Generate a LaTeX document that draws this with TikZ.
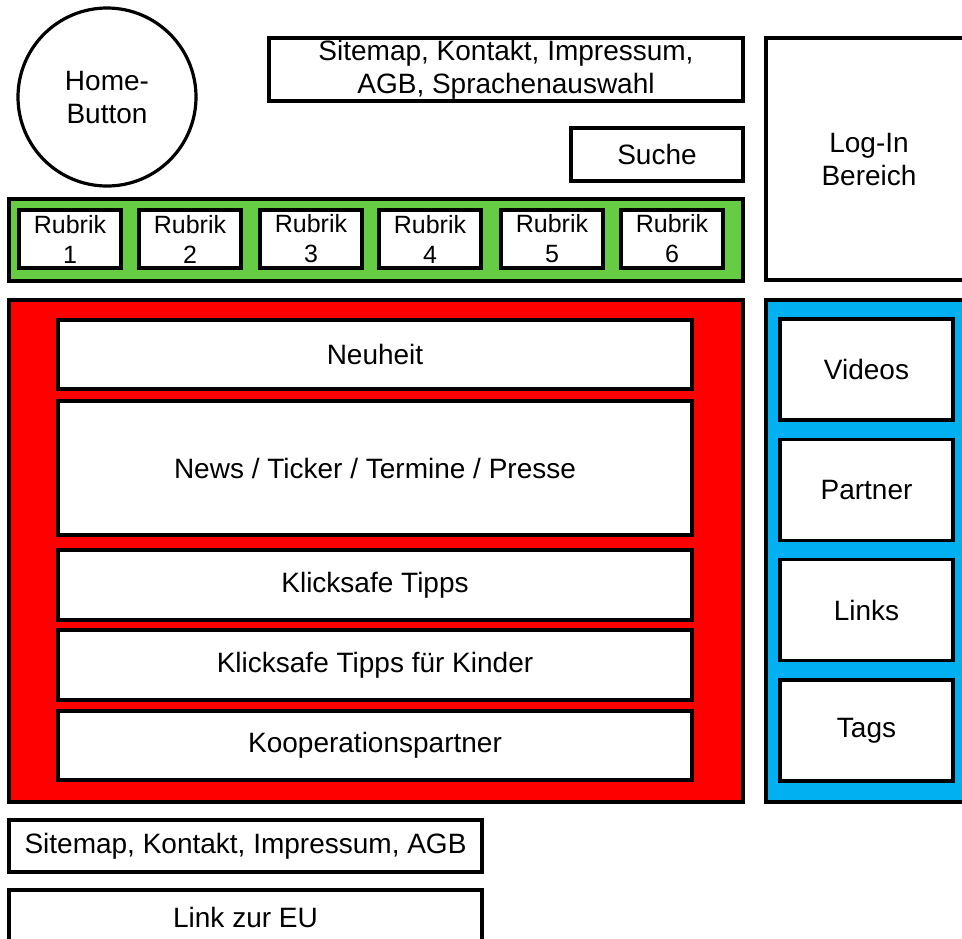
\documentclass[tikz,border=0pt]{standalone}
\usepackage{fontspec}
\setmainfont{Liberation Sans}
\usepackage{tikz}
\tikzset{
every picture/.style={line width=1.6pt},
%%%%%%%%%%  Node styles
box/.style={draw, fill=white, inner sep=0pt, align=center,
            font=\fontsize{14}{16.5}\selectfont},
home/.style={box, circle, minimum size=89pt},
rubrik/.style={box, minimum width=51pt, minimum height=29pt,
               font=\fontsize{12.5}{15}\selectfont},
content/.style={box, minimum width=317pt},
side/.style={box, minimum width=86.5pt, minimum height=50.5pt},
%%%%%%% Fill styles %%%%%%%%%%%%%%%
panel/.style={draw, inner sep=0pt},
navbar/.style={panel, fill=navgreen},
mainarea/.style={panel, fill=mainred},
sidebar/.style={panel, fill=sideblue}
}
\definecolor{navgreen}{RGB}{102,204,68}
\definecolor{mainred}{RGB}{255,0,0}
\definecolor{sideblue}{RGB}{0,176,240}

\begin{document}
\begin{tikzpicture}[x=0.5pt,y=-0.5pt]
\useasboundingbox (0,0) rectangle (962,938);
\clip (0,0) rectangle (962,938);
%%%% head
\node[home] (home) at (107,97) {Home-\\Button};
\node[box, minimum width=237pt, minimum height=31.5pt] (meta) at (506,69.5)
     {Sitemap, Kontakt, Impressum,\\AGB, Sprachenauswahl};
\node[box, minimum width=86pt, minimum height=26.5pt] (suche) at (657,154.5) {Suche};
\node[box, minimum width=103pt, minimum height=121pt] (login) at (869,159) {Log-In\\Bereich};
%%%% navigation
\node[navbar, minimum width=367pt, minimum height=41pt] (nav) at (376,240) {};
\node[rubrik] (r1) at (70,239) {Rubrik\\1};
\node[rubrik] (r2) at (190,239) {Rubrik\\2};
\node[rubrik] (r3) at (311,239) {Rubrik\\3};
\node[rubrik] (r4) at (430,239) {Rubrik\\4};
\node[rubrik] (r5) at (552,239) {Rubrik\\5};
\node[rubrik] (r6) at (672,239) {Rubrik\\6};
%%%% main content
\node[mainarea, minimum width=367pt, minimum height=251pt] (main) at (376,551) {};
\node[content, minimum height=34.5pt] (neu) at (375,354.5) {Neuheit};
\node[content, minimum height=67pt] (news) at (375,468) {News / Ticker / Termine / Presse};
\node[content, minimum height=35pt] (tipps) at (375,585) {Klicksafe Tipps};
\node[content, minimum height=35pt] (kinder) at (375,665) {Klicksafe Tipps für Kinder};
\node[content, minimum height=34.5pt] (koop) at (375,745.5) {Kooperationspartner};
%%%% sidebar
\node[sidebar, minimum width=100.5pt, minimum height=251pt] (aside) at (866.5,551) {};
\node[side] (videos) at (866.5,369.5) {Videos};
\node[side] (partner) at (866.5,490) {Partner};
\node[side] (links) at (866.5,610) {Links};
\node[side] (tags) at (866.5,730.5) {Tags};
%%%% footer
\node[box, minimum width=236.5pt, minimum height=26pt] (foot) at (245.5,846)
     {Sitemap, Kontakt, Impressum, AGB};
\node[box, minimum width=236.5pt, minimum height=27.5pt] (eu) at (245.5,917.5) {Link zur EU};
\end{tikzpicture}
\end{document}
